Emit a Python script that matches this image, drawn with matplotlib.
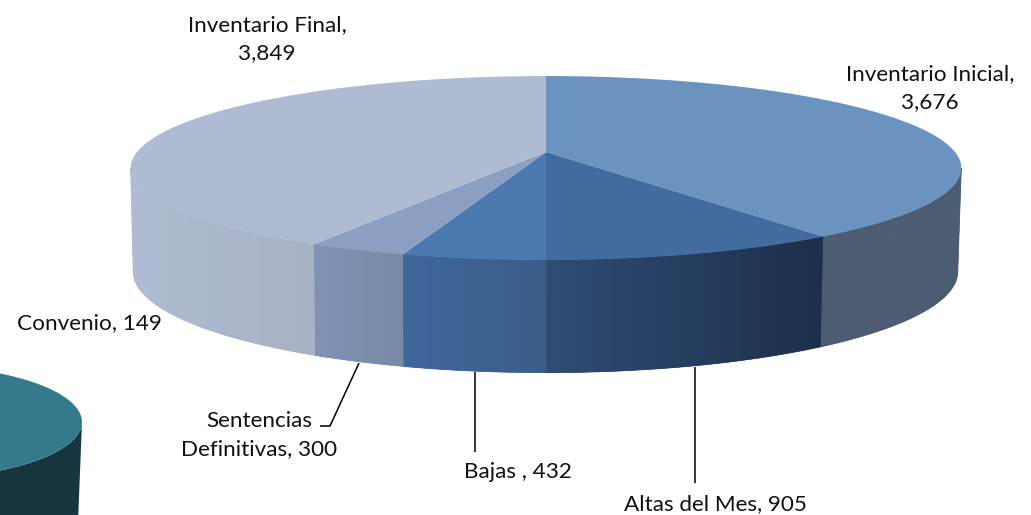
import numpy as np
import matplotlib
matplotlib.use("Agg")
import matplotlib.pyplot as plt
from matplotlib.transforms import Transform
from matplotlib.colors import to_rgb
from matplotlib.patches import Ellipse, Polygon

# ---- data ----
slice_names = ["Inventario Inicial", "Altas del Mes", "Bajas ", "Sentencias Definitivas", "Inventario Final"]
slice_values = [3676, 905, 432, 300, 3849]
# labelled in the chart, but it has no visible slice
extra_name = "Convenio"
extra_value = 149

# ---- styles ----
top_colors = ["#6b93c0", "#426b9e", "#4a7ab0", "#8a9fc1", "#aebbd3"]
# wall colours: (at the left end of the slice's wall, at the right end)
wall_colors = [("#4c5c72", "#4c5c72"), ("#2f4d75", "#1d2f4a"), ("#3f689d", "#3a5c88"),
               ("#7f93b6", "#7a8aa5"), ("#b0bcd3", "#a7b2c6")]
plt.rcParams["font.family"] = ["Lato", "DejaVu Sans"]
FS = 16.2
TXT = "#111111"


class Tilt(Transform):
    """Projects the unit pie onto the picture with the chart's 3-D perspective."""
    input_dims = 2
    output_dims = 2

    def __init__(self, cx, cy, a, b, k):
        super().__init__()
        self.cx, self.cy, self.a, self.b, self.k = cx, cy, a, b, k

    def transform_non_affine(self, pts):
        pts = np.asarray(pts, float)
        w = 1 + self.k * pts[:, 1]
        return np.column_stack([self.cx + self.a * pts[:, 0] / w,
                                self.cy - self.b * pts[:, 1] / w])


fig = plt.figure(figsize=(10.31, 5.15), dpi=100)
ax = fig.add_axes([0, 0, 1, 1])

K = 0.174
top_tf = Tilt(546, 152, 409, 89.2, K)
bottom_tf = Tilt(545.5, 254, 406, 98, K)

# walls of the front half: a flat underlay and a clipped horizontal gradient
angles = np.cumsum([0] + slice_values) / sum(slice_values) * 360
vis_lo = np.degrees(np.arccos(-K))
vis_hi = 360 - vis_lo
for i in range(len(slice_values)):
    lo, hi = max(angles[i], vis_lo), min(angles[i + 1], vis_hi)
    if hi <= lo:
        continue
    th = np.radians(np.linspace(lo, hi, 90))
    unit = np.column_stack([np.sin(th), np.cos(th)])
    up, dn = top_tf.transform(unit), bottom_tf.transform(unit)
    outline = np.vstack([up, dn[::-1]])
    c0, c1 = np.array(to_rgb(wall_colors[i][0])), np.array(to_rgb(wall_colors[i][1]))
    base = Polygon(outline, closed=True, facecolor=(c0 + c1) / 2, edgecolor=(c0 + c1) / 2, lw=0.5, zorder=2)
    ax.add_patch(base)
    x0, x1 = outline[:, 0].min(), outline[:, 0].max()
    y0, y1 = outline[:, 1].min(), outline[:, 1].max()
    grad = np.linspace(0, 1, 64)[None, :, None] * (c1 - c0) + c0
    im = ax.imshow(grad, extent=(x0, x1, y1, y0), aspect="auto", interpolation="bilinear", zorder=2.1)
    im.set_clip_path(Polygon(outline, closed=True, transform=ax.transData))

# top face
wedges, _ = ax.pie(slice_values, colors=top_colors, startangle=90, counterclock=False, radius=1,
                   wedgeprops=dict(linewidth=0))
for w in wedges:
    w.set_transform(top_tf + ax.transData)
    w.set_zorder(3)

# fragment of the neighbouring pie, lower-left
t2 = np.radians(np.linspace(0, 90, 40))
wall2 = np.vstack([np.column_stack([-90 + 172 * np.cos(t2), 422 + 57 * np.sin(t2)])[::-1],
                   np.column_stack([-90 + 168 * np.cos(t2), 522 + 57 * np.sin(t2)])])
ax.add_patch(Polygon(wall2, closed=True, facecolor="#17363f", edgecolor="none", zorder=2))
ax.add_patch(Ellipse((-90, 422), 344, 114, facecolor="#357a8c", edgecolor="none", zorder=3))

ax.set_aspect("auto")
ax.set_xlim(0, 1031)
ax.set_ylim(515, 0)
ax.axis("off")

# leader lines
for xs_, ys_ in [([359, 330, 320], [363, 426, 426]), ([475, 475], [372, 452]), ([695, 695], [367, 483])]:
    ax.plot(xs_, ys_, color="black", lw=1.1, zorder=4, solid_capstyle="butt", solid_joinstyle="miter")


def label(name, value):
    return f"{name}, {value:,}"


def txt(x, y, s):
    ax.text(x, y, s, ha="center", va="center", fontsize=FS, color=TXT, linespacing=1.55, zorder=5)


txt(267, 39, f"{slice_names[4]},\n{slice_values[4]:,}")
txt(930, 88, f"{slice_names[0]},\n{slice_values[0]:,}")
txt(89, 323, label(extra_name, extra_value))
sn = slice_names[3].split()
txt(259, 435, f"{sn[0]}\n{sn[1]}, {slice_values[3]}")
txt(518, 472, label(slice_names[2], slice_values[2]))
txt(716, 504, label(slice_names[1], slice_values[1]))

fig.savefig("out.png", dpi=100)
